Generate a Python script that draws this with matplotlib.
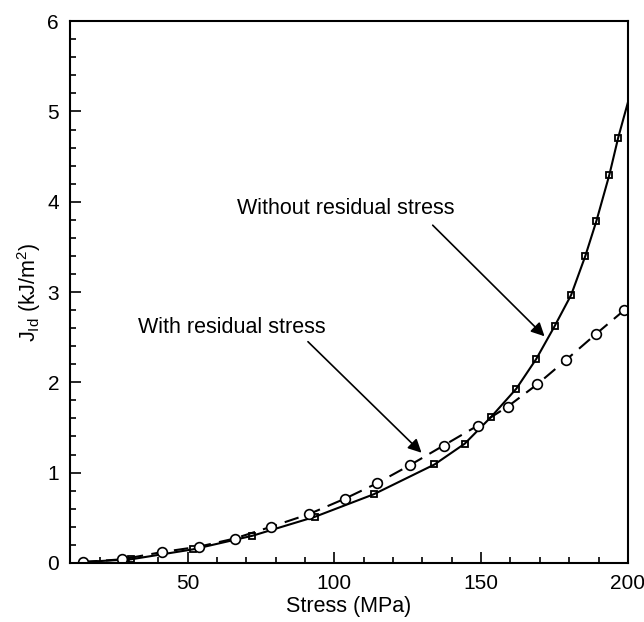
import matplotlib.pyplot as plt
from matplotlib.ticker import MultipleLocator

plt.rcParams['font.family'] = ['Liberation Sans', 'DejaVu Sans']
plt.rcParams['mathtext.fontset'] = 'custom'
plt.rcParams['mathtext.rm'] = 'Liberation Sans'

# Без остаточных напряжений (квадраты, сплошная линия)
stress_without = [30.7, 51.8, 72.0, 93.3, 113.4, 134.1, 144.4, 153.5, 162.0,
                  168.8, 175.0, 180.7, 185.5, 189.3, 193.7, 196.7]
j_without = [0.04, 0.15, 0.30, 0.51, 0.76, 1.09, 1.32, 1.62, 1.93,
             2.26, 2.62, 2.97, 3.40, 3.79, 4.30, 4.71]
# кривая: начало и конец линии за пределами маркеров
line_without_x = [14.4] + stress_without + [200.0]
line_without_y = [0.01] + j_without + [5.10]

# С остаточными напряжениями (кружки, пунктир)
stress_with = [14.4, 27.7, 41.3, 53.9, 66.0, 78.4, 91.3, 103.5, 114.4, 125.6,
               137.2, 148.8, 159.0, 169.2, 179.0, 189.3, 198.8]
j_with = [0.01, 0.04, 0.12, 0.18, 0.27, 0.40, 0.54, 0.71, 0.88, 1.08,
          1.30, 1.52, 1.73, 1.98, 2.25, 2.54, 2.80]

FS = 15.5

fig = plt.figure(figsize=(6.44, 6.22), dpi=100)
ax = fig.add_axes([0.109, 0.095, 0.866, 0.871])

ax.plot(line_without_x, line_without_y, color='black', lw=1.5)
ax.plot(stress_without, j_without, linestyle='none', marker='s', ms=5,
        mfc='none', mec='black', mew=1.3)
ax.plot(stress_with, j_with, color='black', lw=1.5, linestyle=(0, (7, 4)),
        marker='o', ms=7, mfc='white', mec='black', mew=1.2)

ax.set_xlim(10, 200)
ax.set_ylim(0, 6)
ax.xaxis.set_major_locator(MultipleLocator(50))
ax.xaxis.set_minor_locator(MultipleLocator(10))
ax.yaxis.set_major_locator(MultipleLocator(1))
ax.yaxis.set_minor_locator(MultipleLocator(0.2))
ax.tick_params(which='both', direction='in', top=False, right=False,
               labelsize=15, width=1.2)
ax.tick_params(which='major', length=8, pad=8)
ax.tick_params(which='minor', length=4)
for s in ax.spines.values():
    s.set_linewidth(1.5)

ax.set_xlabel('Stress (MPa)', fontsize=FS, labelpad=2)
ax.set_ylabel(r'J$_{\mathrm{Id}}$ (kJ/m$^2$)', fontsize=FS, labelpad=3)

# подписи и стрелки
ax.text(104, 3.92, 'Without residual stress', fontsize=FS, ha='center', va='center')
ax.annotate('', xy=(171.6, 2.51), xytext=(133.5, 3.74),
            arrowprops=dict(arrowstyle='-|>', color='black', lw=1.2,
                            mutation_scale=20, shrinkA=0, shrinkB=0))
ax.text(65.2, 2.61, 'With residual stress', fontsize=FS, ha='center', va='center')
ax.annotate('', xy=(129.7, 1.22), xytext=(91, 2.45),
            arrowprops=dict(arrowstyle='-|>', color='black', lw=1.2,
                            mutation_scale=20, shrinkA=0, shrinkB=0))

plt.savefig('out.png', dpi=100)
